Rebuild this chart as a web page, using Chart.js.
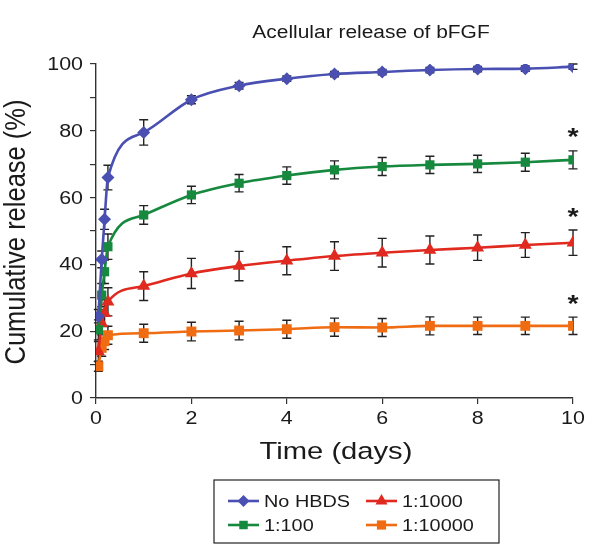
<!DOCTYPE html>
<html><head><meta charset="utf-8">
<script src="https://cdn.jsdelivr.net/npm/chart.js@4/dist/chart.umd.min.js"></script>
<style>html,body{margin:0;padding:0;background:#fff}#wrap{width:600px;height:555px;position:relative}</style>
</head><body><div id="wrap"><canvas id="c" width="600" height="555"></canvas></div>
<script>
// ---- data ----
const times = [0.05, 0.12, 0.18, 0.25, 1, 2, 3, 4, 5, 6, 7, 8, 9, 10];
const seriesNames = ['No HBDS', '1:100', '1:1000', '1:10000'];
const noHBDS    = [24.5, 41.5, 53.5, 66.0, 79.5, 89.3, 93.5, 95.6, 97.0, 97.6, 98.2, 98.5, 98.6, 99.2];
const noHBDSErr = [2.0, 2.5, 3.0, 3.7, 3.8, 1.2, 1.0, 0.8, 0.8, 0.8, 0.8, 0.8, 0.8, 0.8];
const r100      = [20.4, 30.8, 37.8, 45.3, 54.8, 60.8, 64.3, 66.6, 68.3, 69.3, 69.8, 70.1, 70.6, 71.3];
const r100Err   = [3.0, 3.5, 3.5, 3.8, 2.8, 2.6, 2.6, 2.6, 2.7, 2.7, 2.6, 2.6, 2.7, 2.7];
const r1000     = [13.9, 22.4, 25.4, 28.8, 33.5, 37.3, 39.5, 41.1, 42.5, 43.5, 44.3, 45.0, 45.8, 46.5];
const r1000Err  = [3.0, 3.5, 4.0, 4.2, 4.3, 4.5, 4.4, 4.2, 4.3, 4.3, 4.2, 3.8, 3.7, 3.8];
const r10000    = [9.5, 15.0, 17.0, 18.8, 19.4, 19.9, 20.2, 20.6, 21.2, 21.1, 21.6, 21.6, 21.6, 21.6];
const r10000Err = [1.5, 2.5, 2.5, 2.7, 2.7, 2.8, 2.8, 2.7, 2.7, 2.7, 2.7, 2.6, 2.6, 2.6];
const significantAtEnd = [false, true, true, true];
const xTicks = [0, 2, 4, 6, 8, 10];
const yTicks = [0, 20, 40, 60, 80, 100];
const chartTitle = 'Acellular release of bFGF';
const xTitle = 'Time (days)';
const yTitle = 'Cumulative release (%)';

const FONT = '"Liberation Sans", Arial, sans-serif';
const STRETCH = 1.19;           // the reference text is drawn horizontally widened
const TEXT = '#1a1a1a';
const colors = ['#4a50b2', '#16893e', '#e0291f', '#f06c12'];
const styles = ['rectRot', 'rect', 'triangle', 'rect'];
const radii = [6.5, 6.5, 7.5, 7];
const values = [noHBDS, r100, r1000, r10000];
const errors = [noHBDSErr, r100Err, r1000Err, r10000Err];

const datasets = values.map((vals, i) => ({
  label: seriesNames[i],
  data: times.map((t, j) => ({x: t, y: vals[j]})),
  errs: errors[i],
  borderColor: colors[i],
  backgroundColor: colors[i],
  borderWidth: 2.6,
  pointStyle: styles[i],
  pointRadius: radii[i],
  pointBackgroundColor: colors[i],
  pointBorderColor: colors[i],
  pointBorderWidth: 0,
  cubicInterpolationMode: 'monotone',
  fill: false
}));

function wideText(ctx, text, x, y, align, size, opts = {}) {
  ctx.save();
  ctx.translate(x, y);
  ctx.scale(STRETCH, 1);
  if (opts.rotate) ctx.rotate(opts.rotate);
  ctx.font = (opts.bold ? 'bold ' : '') + size + 'px ' + FONT;
  ctx.textAlign = align;
  ctx.textBaseline = 'middle';
  ctx.fillStyle = opts.color || TEXT;
  ctx.fillText(text, 0, 0);
  ctx.restore();
}

const errorBars = {
  id: 'errorBars',
  beforeDatasetsDraw(chart) {
    const {ctx, scales: {x, y}} = chart;
    ctx.save();
    ctx.strokeStyle = '#222';
    ctx.lineWidth = 1.4;
    chart.data.datasets.forEach(ds => {
      ds.data.forEach((p, j) => {
        const e = ds.errs[j];
        const px = x.getPixelForValue(p.x);
        const y1 = y.getPixelForValue(p.y + e), y2 = y.getPixelForValue(p.y - e);
        ctx.beginPath();
        ctx.moveTo(px, y1); ctx.lineTo(px, y2);
        ctx.moveTo(px - 4.5, y1); ctx.lineTo(px + 4.5, y1);
        ctx.moveTo(px - 4.5, y2); ctx.lineTo(px + 4.5, y2);
        ctx.stroke();
      });
    });
    ctx.restore();
  }
};

const decorations = {
  id: 'decorations',
  afterDraw(chart) {
    const {ctx, scales: {x, y}} = chart;
    // tick labels
    xTicks.forEach(v => wideText(ctx, String(v), x.getPixelForValue(v), 419, 'center', 18));
    yTicks.forEach(v => wideText(ctx, String(v), 83, y.getPixelForValue(v) + 1, 'right', 18));
    // titles
    wideText(ctx, chartTitle, 371, 33, 'center', 17.6);
    wideText(ctx, xTitle, 336, 452, 'center', 24.5);
    wideText(ctx, yTitle, 17, 232, 'center', 25.5, {rotate: -Math.PI / 2});
    // asterisks
    chart.data.datasets.forEach((ds, i) => {
      if (!significantAtEnd[i]) return;
      const last = ds.data.length - 1;
      const p = ds.data[last];
      const px = x.getPixelForValue(p.x);
      const py = y.getPixelForValue(p.y + ds.errs[last]);
      wideText(ctx, '*', px, py - 12, 'center', 24, {bold: true});
    });
    // legend
    const L = 214, T = 480, R = 499, B = 543;
    ctx.save();
    ctx.strokeStyle = '#222';
    ctx.lineWidth = 1.2;
    ctx.strokeRect(L, T, R - L, B - T);
    const cols = [228, 366];
    const rows = [501, 525];
    const order = [[0, 0, 0], [1, 0, 1], [2, 1, 0], [3, 1, 1]];
    order.forEach(([i, c, r]) => {
      const lx = cols[c], ly = rows[r];
      ctx.strokeStyle = colors[i];
      ctx.lineWidth = 2.6;
      ctx.beginPath(); ctx.moveTo(lx, ly); ctx.lineTo(lx + 31, ly); ctx.stroke();
      ctx.fillStyle = colors[i];
      Chart.helpers.drawPoint(ctx, {pointStyle: styles[i], radius: radii[i] - 0.5, borderWidth: 0}, lx + 15.5, ly);
      wideText(ctx, seriesNames[i], lx + 36, ly + 1, 'left', 16.7);
    });
    ctx.restore();
  }
};

new Chart(document.getElementById('c'), {
  type: 'line',
  data: {datasets},
  options: {
    responsive: false,
    animation: false,
    layout: {padding: {left: 0, right: 27, top: 64, bottom: 0}},
    plugins: {legend: {display: false}, title: {display: false}, tooltip: {enabled: false}},
    scales: {
      x: {
        type: 'linear', min: 0, max: 10,
        afterBuildTicks(s) { s.ticks = xTicks.map(v => ({value: v})); },
        ticks: {display: false},
        grid: {drawOnChartArea: false, drawTicks: true, tickLength: 6, color: '#333', lineWidth: 1.2},
        border: {color: '#333', width: 1.4},
        afterFit(s) { s.height = 157; }
      },
      y: {
        type: 'linear', min: 0, max: 100,
        ticks: {display: false, stepSize: 10},
        grid: {drawOnChartArea: false, drawTicks: true, tickLength: 6, color: '#333', lineWidth: 1.2},
        border: {color: '#333', width: 1.4},
        afterFit(s) { s.width = 96; }
      }
    }
  },
  plugins: [errorBars, decorations]
});
</script></body></html>
